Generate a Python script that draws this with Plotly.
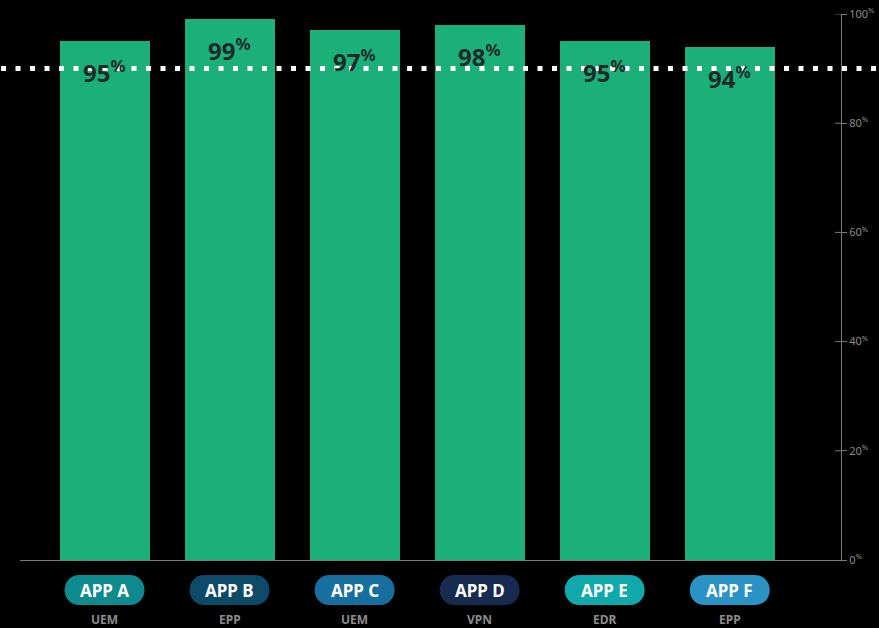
import plotly.graph_objects as go

apps = ["APP A", "APP B", "APP C", "APP D", "APP E", "APP F"]
types = ["UEM", "EPP", "UEM", "VPN", "EDR", "EPP"]
values = [95, 99, 97, 98, 95, 94]
pill_colors = ["#0f8a8e", "#0c4a68", "#176fa0", "#172a50", "#0fa9ab", "#2b92c6"]
target = 90
tick_vals = [0, 20, 40, 60, 80, 100]

W, H = 879, 628
ml, mr, mt, mb = 20, 38, 14, 68
ph = H - mt - mb

x = list(range(len(apps)))

fig = go.Figure()
fig.add_trace(go.Bar(
    x=x, y=values, width=0.72,
    marker=dict(color="#1bb079", line=dict(width=0)),
    hoverinfo="skip",
))

annotations = []
shapes = []

# value labels on bars
for i, v in zip(x, values):
    annotations.append(dict(
        x=i, y=v, xref="x", yref="y", yanchor="top", yshift=-11,
        text=f"<b>{v}<sup>%</sup></b>", showarrow=False,
        font=dict(family="Noto Sans", size=24, color="#1e2a2a"),
    ))

# pills and sub labels
pill_y = -(590 - (H - mb)) / ph
sub_y = -(619 - (H - mb)) / ph
hw, hh = 40, 15
r = hh
path = (f"M{-hw + r},{-hh} L{hw - r},{-hh} "
        f"C{hw + r * 0.33},{-hh} {hw + r * 0.33},{hh} {hw - r},{hh} "
        f"L{-hw + r},{hh} "
        f"C{-hw - r * 0.33},{hh} {-hw - r * 0.33},{-hh} {-hw + r},{-hh} Z")
for i, a, t, c in zip(x, apps, types, pill_colors):
    shapes.append(dict(
        type="path", xref="x", yref="paper",
        xsizemode="pixel", ysizemode="pixel",
        xanchor=i, yanchor=pill_y, path=path,
        fillcolor=c, line=dict(width=0), layer="above",
    ))
    annotations.append(dict(
        x=i, y=pill_y, xref="x", yref="paper", yanchor="middle",
        text=f"<b>{a}</b>", showarrow=False,
        font=dict(family="Noto Sans", size=17, color="white"),
    ))
    annotations.append(dict(
        x=i, y=sub_y, xref="x", yref="paper", yanchor="middle",
        text=f"<b>{t}</b>", showarrow=False,
        font=dict(family="Noto Sans", size=12, color="#8c8c8c"),
    ))

# dotted target line across full width
shapes.append(dict(
    type="line", xref="paper", yref="y",
    x0=-(ml - 1) / (W - ml - mr), x1=(W - ml) / (W - ml - mr),
    y0=target, y1=target,
    line=dict(color="white", width=5, dash="5px,9.5px"), layer="above",
))

# inner half of crossing tick marks
for tv in tick_vals[1:]:
    shapes.append(dict(
        type="line", xref="paper", yref="y", xsizemode="pixel", xanchor=1,
        x0=-6, x1=0, y0=tv, y1=tv,
        line=dict(color="#7a7a7a", width=1), layer="above",
    ))

fig.update_layout(
    width=W, height=H,
    margin=dict(l=ml, r=mr, t=mt, b=mb, autoexpand=False),
    paper_bgcolor="black", plot_bgcolor="black",
    showlegend=False,
    bargap=0,
    xaxis=dict(
        range=[-0.676, 5.89], showticklabels=False, showgrid=False,
        zeroline=False, showline=True, linecolor="#7a7a7a", linewidth=1,
        ticks="", fixedrange=True, automargin=False,
    ),
    yaxis=dict(
        range=[0, 100], side="right", showgrid=False, zeroline=False,
        showline=True, linecolor="#7a7a7a", linewidth=1,
        tickvals=tick_vals,
        ticktext=[f"{v}<sup>%</sup>" for v in tick_vals],
        ticks="outside", ticklen=5, tickcolor="#7a7a7a",
        tickfont=dict(family="Noto Sans", size=11, color="#8a8a8a"),
        fixedrange=True, automargin=False,
    ),
    annotations=annotations,
    shapes=shapes,
)

fig.write_html(
    "out.html",
    config={"displayModeBar": False},
    post_script="document.body.style.margin='0';document.body.style.background='black';",
)
